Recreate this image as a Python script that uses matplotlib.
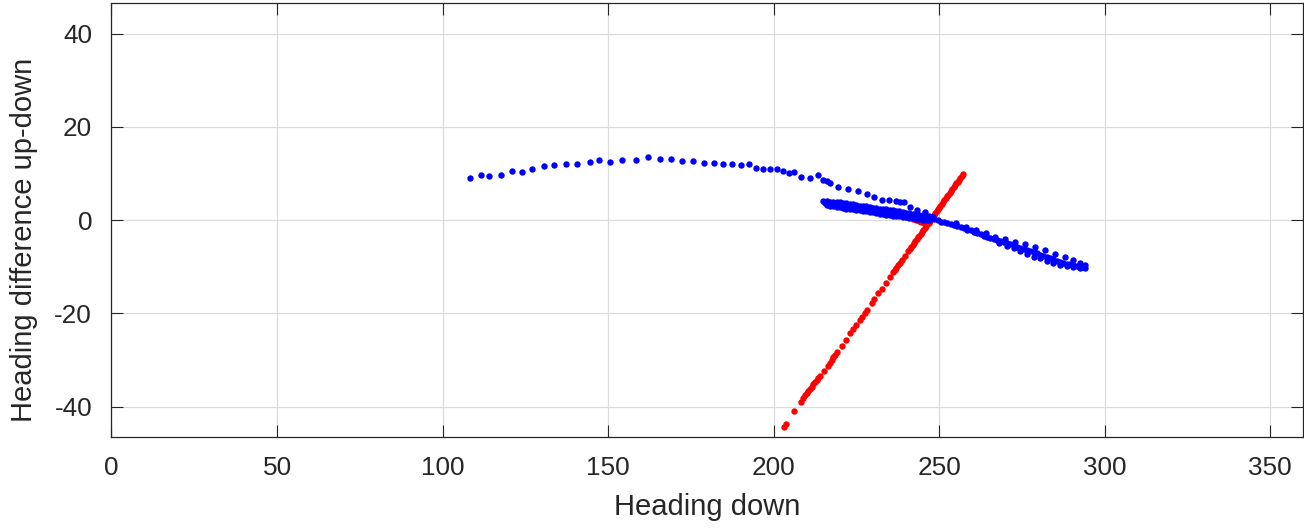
import matplotlib
matplotlib.use("Agg")
import matplotlib.pyplot as plt

# Obie serie: kurs w dół (x) vs różnica kursów góra-dół (y).
arc_x = [108.3, 111.5, 114.1, 117.5, 120.9, 124.0, 127.0, 130.5, 133.7, 137.3,
         140.5, 144.5, 147.4, 150.6, 154.1, 158.4, 162.1, 165.8, 169.0, 172.3,
         175.7, 178.9, 182.0, 184.8, 187.3, 190.1, 192.6, 194.7, 196.9, 199.0,
         200.9, 202.7, 204.5, 206.3, 208.2, 211.0, 213.5, 214.8, 216.0, 217.1,
         219.4, 222.4, 225.6, 228.1, 230.3, 232.6, 234.9, 236.9, 238.3, 239.3,
         241.2, 243.4, 245.7, 247.7]
arc_y = [9.1, 9.6, 9.5, 9.7, 10.5, 10.4, 10.9, 11.6, 11.8, 12.0,
         12.1, 12.5, 13.0, 12.5, 13.0, 13.0, 13.5, 13.1, 13.2, 12.7,
         12.7, 12.3, 12.2, 12.1, 12.0, 11.8, 12.1, 11.2, 11.0, 11.0,
         11.0, 10.6, 10.2, 10.3, 9.3, 9.1, 9.6, 8.7, 8.5, 7.9,
         7.2, 6.6, 6.2, 5.6, 4.9, 4.4, 4.3, 4.2, 3.9, 3.8,
         2.9, 2.2, 1.7, 0.7]

band_a_x = [215, 216, 217, 218, 219, 220, 221, 222, 223, 224, 225, 226, 227, 228,
            229, 230, 231, 232, 233, 234, 235, 236, 237, 238, 239, 240, 241, 242,
            243, 244, 245, 246, 247, 248]
band_a_y = [4.2, 4.1, 4.0, 4.0, 3.8, 3.8, 3.6, 3.6, 3.4, 3.4, 3.2, 3.1, 3.0, 3.0,
            2.8, 2.7, 2.6, 2.5, 2.4, 2.3, 2.2, 2.1, 2.0, 1.9, 1.8, 1.6, 1.5, 1.4,
            1.3, 1.2, 1.1, 1.0, 0.9, 0.7]
band_b_x = [215.5, 216.5, 217.5, 218.5, 219.5, 220.5, 221.5, 222.5, 223.5, 224.5,
            225.5, 226.5, 227.5, 228.5, 229.5, 230.5, 231.5, 232.5, 233.5, 234.5,
            235.5, 236.5, 237.5, 238.5, 239.5, 240.5, 241.5, 242.5, 243.5, 244.5,
            245.5, 246.5, 247.5]
band_b_y = [3.7, 3.6, 3.5, 3.4, 3.3, 3.2, 3.1, 3.0, 2.9, 2.8,
            2.7, 2.6, 2.5, 2.4, 2.3, 2.2, 2.0, 1.9, 1.8, 1.7,
            1.6, 1.5, 1.4, 1.3, 1.2, 1.1, 1.0, 0.9, 0.8, 0.7,
            0.6, 0.5, 0.4]
band_c_x = [216, 217, 218, 219, 220, 221, 222, 223, 224, 225, 226, 227, 228, 229,
            230, 231, 232, 233, 234, 235, 236, 237, 238, 239, 240, 241, 242, 243,
            244, 245, 246, 247]
band_c_y = [3.2, 3.1, 3.0, 2.9, 2.8, 2.6, 2.5, 2.4, 2.3, 2.2, 2.1, 2.0, 1.9, 1.8,
            1.7, 1.5, 1.4, 1.3, 1.2, 1.1, 1.0, 0.9, 0.8, 0.7, 0.6, 0.5, 0.4, 0.3,
            0.2, 0.1, 0.1, 0.0]

tail_x = [248.5, 249.5, 250.5, 251.5, 252.5, 253.5, 254.5, 255.5, 256.5, 257.5,
          258.5, 259.5, 260.5, 261.5, 262.5, 263.5, 264.5, 265.5, 266.5, 267.5,
          268.5, 269.5, 270.5, 271.5, 272.5, 273.5, 274.5, 275.5, 276.5, 277.5,
          278.5, 279.5, 280.5, 281.5, 282.5, 283.5, 284.5, 285.5, 286.5, 287.5,
          288.5, 289.5, 290.5, 291.5, 292.5, 293.5]
tail_y = [0.2, 0.0, -0.3, -0.4, -0.6, -0.8, -1.0, -1.2, -1.5, -1.7,
          -2.0, -2.2, -2.5, -2.7, -3.0, -3.3, -3.6, -3.9, -4.1, -4.3,
          -4.5, -4.7, -4.9, -5.1, -5.4, -5.7, -6.0, -6.2, -6.4, -6.6,
          -6.9, -7.1, -7.4, -7.7, -8.0, -8.2, -8.4, -8.7, -8.9, -9.1,
          -9.3, -9.5, -9.6, -9.8, -9.9, -10.0]
tail_up_x = [255, 258, 261, 264, 267, 270, 273, 276, 279, 282, 285, 288, 290.5, 292.5, 294]
tail_up_y = [-0.7, -1.4, -2.0, -2.8, -3.5, -4.0, -4.6, -5.2, -5.8, -6.5, -7.3, -8.0,
             -8.6, -9.2, -9.6]
tail_lo_x = [268, 270.5, 272.5, 274.5, 276.5, 278.5, 280.5, 282.5, 284.5, 286.5,
             288.5, 290.5, 292.5, 294]
tail_lo_y = [-4.8, -5.5, -6.0, -6.7, -7.2, -7.8, -8.2, -8.7, -9.2, -9.6,
             -9.9, -10.1, -10.3, -10.2]

red_x = [203.1, 203.7, 206.2, 208.2, 209.0, 209.5, 210.0, 210.5, 211.0, 211.5,
         212.0, 212.5, 213.0, 213.5, 214.0, 215.3, 216.5, 217.0, 217.5, 218.0,
         218.5, 219.0, 220.5, 221.8, 223.0, 224.0, 225.0, 226.0, 226.6, 227.6,
         228.3, 229.6, 230.3, 231.6, 232.6, 233.9, 235.1, 236.1, 236.6, 237.1,
         237.6, 238.1, 238.7, 239.7, 240.7, 241.2, 241.6, 242.0, 242.4, 242.8,
         243.2, 243.6, 244.0, 244.4, 244.8, 245.2, 245.6, 246.0, 246.4, 246.8,
         247.2, 247.6, 248.0, 248.4, 248.8, 249.2, 249.6, 250.0, 250.4, 250.8,
         251.2, 251.6, 252.0, 252.4, 252.8, 253.2, 253.6, 254.0, 254.4, 254.8,
         255.2, 255.6, 256.0, 256.4, 256.8, 257.1,
         242.2, 243.0, 243.8, 244.6, 245.4, 246.2]
red_y = [-44.3, -43.7, -41.0, -39.1, -38.1, -37.6, -37.1, -36.6, -36.2, -35.7,
         -35.2, -34.8, -34.3, -33.9, -33.5, -32.3, -31.2, -30.6, -30.0, -29.4,
         -28.9, -28.3, -26.9, -25.7, -24.2, -23.3, -22.4, -21.5, -20.8, -20.0,
         -19.2, -17.8, -17.0, -15.7, -14.7, -13.4, -12.2, -11.2, -10.7, -10.2,
         -9.7, -9.2, -8.6, -7.6, -6.6, -6.1, -5.7, -5.3, -4.9, -4.5,
         -4.1, -3.7, -3.3, -2.9, -2.5, -2.1, -1.7, -1.3, -0.9, -0.5,
         -0.1, 0.3, 0.7, 1.1, 1.5, 1.9, 2.3, 2.7, 3.1, 3.5,
         3.9, 4.3, 4.7, 5.1, 5.5, 5.9, 6.3, 6.7, 7.1, 7.5,
         7.9, 8.3, 8.7, 9.1, 9.5, 9.9,
         0.2, 0.0, -0.2, -0.3, -0.5, -0.6]

x_ticks = [0, 50, 100, 150, 200, 250, 300, 350]
y_ticks = [-40, -20, 0, 20, 40]

TXT = "#262626"

plt.rcParams["font.family"] = ["Liberation Sans", "DejaVu Sans"]
plt.rcParams["axes.unicode_minus"] = False

fig = plt.figure(figsize=(13.04, 5.29), dpi=100)
ax = fig.add_axes([0.0855, 0.174, 0.914, 0.8195])

mk = dict(linestyle="none", marker="o", markersize=4.6, markeredgewidth=0)
ax.plot(red_x, red_y, color="#ff0000", **mk)
blue_x = arc_x + band_a_x + band_b_x + band_c_x + tail_x + tail_up_x + tail_lo_x
blue_y = arc_y + band_a_y + band_b_y + band_c_y + tail_y + tail_up_y + tail_lo_y
ax.plot(blue_x, blue_y, color="#0000ff", **mk)

ax.set_xlim(0, 360)
ax.set_ylim(-46.5, 46.5)
ax.set_xticks(x_ticks)
ax.set_yticks(y_ticks)
ax.grid(True, color="#dcdcdc", linewidth=0.9)
ax.set_axisbelow(True)
ax.tick_params(direction="in", length=8.6, width=0.8, colors=TXT,
               labelsize=18.8, top=True, right=True)
ax.tick_params(axis="x", pad=14)
ax.tick_params(axis="y", pad=14)
for s in ax.spines.values():
    s.set_color(TXT)
    s.set_linewidth(0.9)

ax.set_xlabel("Heading down", fontsize=21, color=TXT, labelpad=9)
ax.set_ylabel("Heading difference up-down", fontsize=21, color=TXT)
ax.yaxis.set_label_coords(-0.062, 0.455)

fig.savefig("out.png", dpi=100)
plt.close(fig)
